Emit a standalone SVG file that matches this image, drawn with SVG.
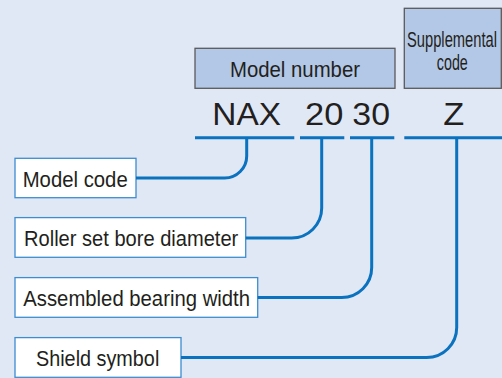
<svg xmlns="http://www.w3.org/2000/svg" width="502" height="378" viewBox="0 0 502 378">
  <style>
    .hdr { fill: #B3C8E6; stroke: #5A5A5A; stroke-width: 1.3; }
    .lbl { fill: #FFFFFF; stroke: #3D8DD0; stroke-width: 1.3; }
    .t { font-family: "Liberation Sans", Arial, sans-serif; fill: #231F20; }
    .conn { fill: none; stroke: #0A72BE; stroke-width: 3; }
  </style>
  <rect x="0" y="0" width="502" height="378" fill="#E1E8F5"/>

  <g id="model-number">
    <rect class="hdr" x="195" y="48.3" width="200" height="40"/>
    <text class="t" x="230" y="77.3" font-size="22" textLength="130" lengthAdjust="spacingAndGlyphs">Model number</text>
  </g>
  <g id="supplemental-code">
    <rect class="hdr" x="404.3" y="8.3" width="97" height="80"/>
    <text class="t" x="407" y="46.5" font-size="22.5" textLength="90" lengthAdjust="spacingAndGlyphs">Supplemental</text>
    <text class="t" x="452.3" y="70" font-size="22.5" text-anchor="middle" textLength="31" lengthAdjust="spacingAndGlyphs">code</text>
  </g>

  <g id="code-text">
    <text class="t" x="212.3" y="125" font-size="31.5" textLength="68.7" lengthAdjust="spacingAndGlyphs">NAX</text>
    <text class="t" x="305" y="125" font-size="31.5" textLength="38.3" lengthAdjust="spacingAndGlyphs">20</text>
    <text class="t" x="352.3" y="125" font-size="31.5" textLength="37.7" lengthAdjust="spacingAndGlyphs">30</text>
    <text class="t" x="443.3" y="125" font-size="31.5" textLength="21" lengthAdjust="spacingAndGlyphs">Z</text>
  </g>

  <g id="model-code">
    <rect class="lbl" x="15" y="158.3" width="121" height="39.4"/>
    <text class="t" x="22.7" y="186.5" font-size="22.5" textLength="105" lengthAdjust="spacingAndGlyphs">Model code</text>
  </g>
  <g id="roller-set-bore-diameter">
    <rect class="lbl" x="15" y="217.6" width="230.7" height="39.7"/>
    <text class="t" x="24" y="246" font-size="22.5" textLength="214.3" lengthAdjust="spacingAndGlyphs">Roller set bore diameter</text>
  </g>
  <g id="assembled-bearing-width">
    <rect class="lbl" x="15" y="277.6" width="242.7" height="39.7"/>
    <text class="t" x="23.3" y="306" font-size="22.5" textLength="226.7" lengthAdjust="spacingAndGlyphs">Assembled bearing width</text>
  </g>
  <g id="shield-symbol">
    <rect class="lbl" x="15" y="337.6" width="166" height="39.7"/>
    <text class="t" x="36" y="365.7" font-size="22.5" textLength="123.3" lengthAdjust="spacingAndGlyphs">Shield symbol</text>
  </g>

  <g id="connectors">
    <path class="conn" d="M195 137.7 H294.3 M300 137.7 H344.3 M350 137.7 H394.3 M404.3 137.7 H502"/>
    <path class="conn" d="M246.7 137.7 V156 A22 22 0 0 1 224.7 178 H136"/>
    <path class="conn" d="M321.7 137.7 V208 A30 30 0 0 1 291.7 238 H245.7"/>
    <path class="conn" d="M371.7 137.7 V267.5 A30 30 0 0 1 341.7 297.5 H257.7"/>
    <path class="conn" d="M456.7 137.7 V327.5 A30 30 0 0 1 426.7 357.5 H181"/>
  </g>
</svg>
